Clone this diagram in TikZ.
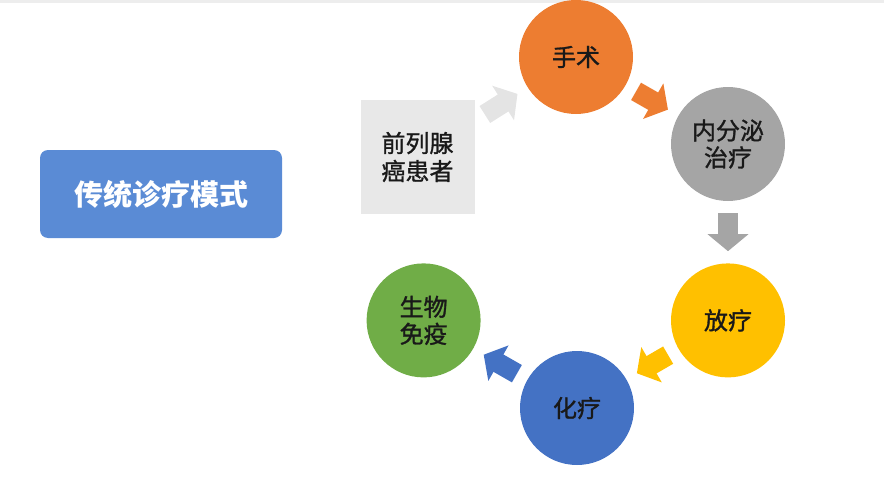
\documentclass[tikz,border=0pt]{standalone}
\usepackage{fontspec}
\setmainfont{Noto Sans CJK SC}
\newfontfamily\stagefont{Noto Sans CJK SC}[FakeBold=1.2]
\usetikzlibrary{positioning, arrows.meta}

\definecolor{modeblue}{HTML}{5A8BD5}
\definecolor{patientgray}{HTML}{E8E8E8}
\definecolor{surgeryorange}{HTML}{ED7D31}
\definecolor{endocrinegray}{HTML}{A5A5A5}
\definecolor{radioyellow}{HTML}{FFC000}
\definecolor{chemoblue}{HTML}{4472C4}
\definecolor{immunegreen}{HTML}{70AD47}
\definecolor{entrygray}{HTML}{E4E4E4}

\begin{document}
\begin{tikzpicture}[x=1pt, y=-1pt, node distance=62pt,
  stage/.style={circle, minimum size=114pt, inner sep=0pt, align=center,
    text=black!90, font=\stagefont\fontsize{24}{27}\selectfont},
  flow/.style={line width=20pt, -{Triangle[length=17pt, width=40pt]},
    shorten <=12pt, shorten >=12pt}]
  \useasboundingbox (0,0) rectangle (884,479);
  \fill[black!7] (0,0) rectangle (884,3);

  \node[fill=modeblue, rounded corners=8pt, minimum width=242pt, minimum height=88pt,
    text=white, font=\fontsize{29}{34}\selectfont\bfseries]      (mode)
  at (161,194) {传统诊疗模式};
  \node[fill=patientgray, minimum size=114pt, inner sep=0pt, align=center,
    text=black!90, font=\stagefont\fontsize{24}{28}\selectfont]  (patient)
  at (417.5,157) {前列腺\\癌患者};

  \node[stage, fill=surgeryorange]                      (surgery)   at (576,57)
  {手术};
  \node[stage, fill=endocrinegray]                      (endocrine) at (728,144)
  {内分泌\\治疗};
  \node[stage, fill=radioyellow, below=of endocrine]    (radio)
  {放疗};
  \node[stage, fill=chemoblue]                          (chemo)     at (577,408)
  {化疗};
  \node[stage, fill=immunegreen, left=190pt of radio]   (immune)
  {生物\\免疫};

  \draw[flow, entrygray]     (patient)   -- (surgery);
  \draw[flow, surgeryorange] (surgery)   -- (endocrine);
  \draw[flow, endocrinegray] (endocrine) -- (radio);
  \draw[flow, radioyellow]   (radio)     -- (chemo);
  \draw[flow, chemoblue]     (chemo)     -- (immune);
\end{tikzpicture}
\end{document}
